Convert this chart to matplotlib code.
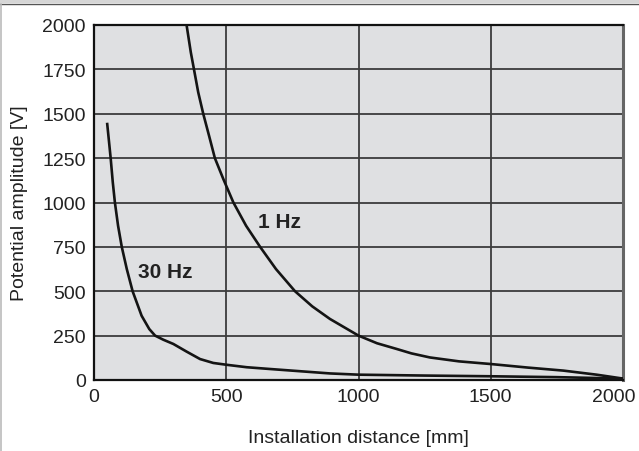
import matplotlib.pyplot as plt
import matplotlib.transforms as mtransforms
from matplotlib.patches import Rectangle
from matplotlib.lines import Line2D

plt.rcParams['font.family'] = ['Liberation Sans', 'DejaVu Sans']

# 1 Hz curve
dist_1hz = [350, 366, 378, 394, 413, 435, 457, 489, 527, 575, 628, 688, 760, 825, 892,
            1000, 1070, 1144, 1200, 1270, 1380, 1500, 1640, 1774, 1900, 2000]
amp_1hz = [2000, 1846, 1750, 1621, 1500, 1376, 1250, 1132, 1000, 869, 750, 625, 500, 415, 344,
           250, 207, 175, 150, 127, 105, 90, 70, 53, 30, 8]

# 30 Hz curve
dist_30hz = [50, 57, 63, 71, 79, 91, 105, 124, 146, 180, 209, 231, 262, 300, 350, 401,
             451, 500, 577, 665, 892, 1000, 1250, 1500, 1750, 2000]
amp_30hz = [1442, 1339, 1250, 1114, 1000, 869, 750, 625, 500, 362, 287, 250, 227, 203, 160, 118,
            96, 86, 72, 62, 37, 30, 25, 21, 16, 8]

x_ticks = [0, 500, 1000, 1500, 2000]
y_ticks = [0, 250, 500, 750, 1000, 1250, 1500, 1750, 2000]

fig = plt.figure(figsize=(6.39, 4.52), dpi=100)
ax = fig.add_axes([94 / 639, 71 / 452, 529 / 639, 355 / 452])
ax.set_facecolor('#dfe0e2')

ax.plot(dist_1hz, amp_1hz, color='#141414', lw=1.9, solid_joinstyle='round', zorder=3)
ax.plot(dist_30hz, amp_30hz, color='#141414', lw=1.9, solid_joinstyle='round', zorder=3)

ax.text(621, 892, '1 Hz', fontsize=15, fontweight='bold', va='center', color='#222222')
ax.text(165, 610, '30 Hz', fontsize=15, fontweight='bold', va='center', color='#222222')

ax.set_xlim(0, 2000)
ax.set_ylim(0, 2000)
ax.set_xticks(x_ticks)
ax.set_yticks(y_ticks)
ax.tick_params(length=0, labelsize=14, pad=6, colors='#222222')
ax.grid(True, color='#3c3c3c', lw=1.3)
ax.set_axisbelow(True)

# last x label sits a little to the left in the original
last = ax.xaxis.get_major_ticks()[-1].label1
last.set_transform(last.get_transform() + mtransforms.ScaledTranslation(-9 / 100, 0, fig.dpi_scale_trans))

for side in ['left', 'top', 'bottom']:
    ax.spines[side].set_color('#111111')
    ax.spines[side].set_linewidth(1.6)
ax.spines['right'].set_color('#666666')
ax.spines['right'].set_linewidth(2.2)

ax.set_xlabel('Installation distance [mm]', fontsize=14, labelpad=17, color='#222222')
ax.set_ylabel('Potential amplitude [V]', fontsize=14, labelpad=10, color='#222222')

# frame of the original picture
fig.add_artist(Rectangle((0, 1 - 4 / 452), 1, 4 / 452, transform=fig.transFigure,
                         facecolor='#d6d6d6', edgecolor='none'))
fig.add_artist(Line2D([0, 1], [1 - 4.5 / 452, 1 - 4.5 / 452], transform=fig.transFigure,
                      color='#555555', lw=1.0))
fig.add_artist(Line2D([0.8 / 639, 0.8 / 639], [0, 1 - 4.5 / 452], transform=fig.transFigure,
                      color='#bbbbbb', lw=1.2))

fig.savefig('out.png', dpi=100)
